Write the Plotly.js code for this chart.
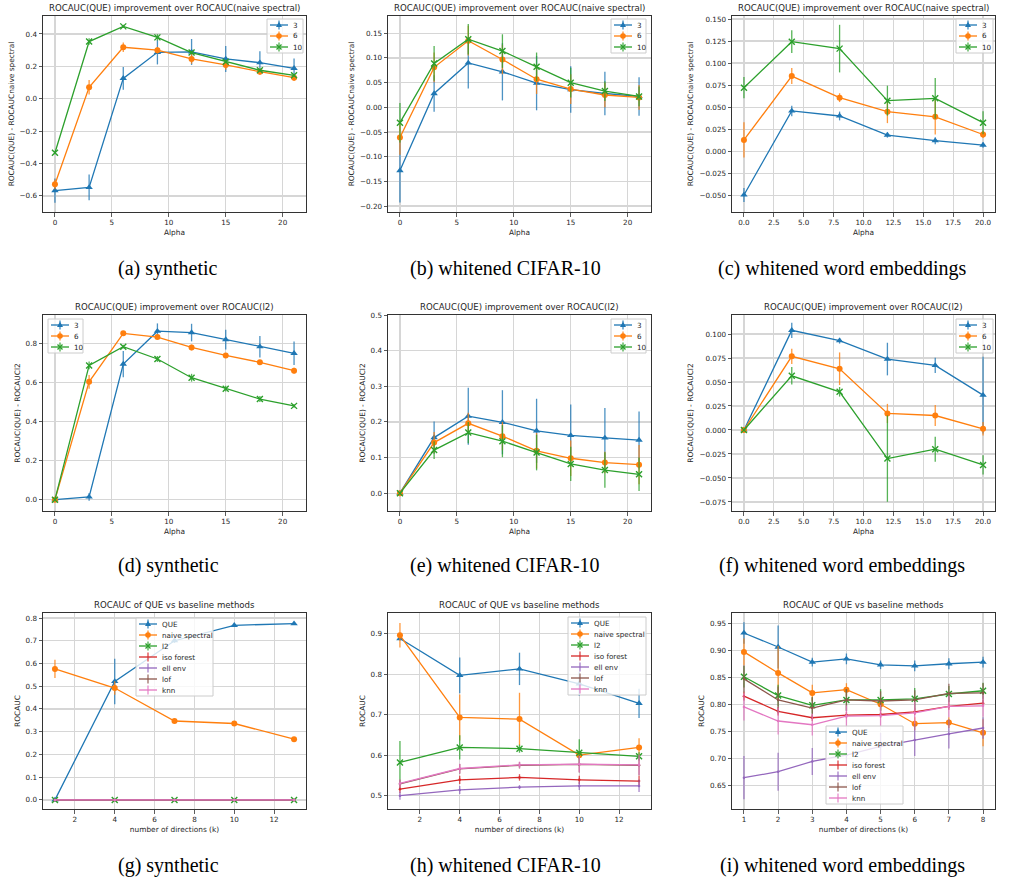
<!DOCTYPE html>
<html><head><meta charset="utf-8">
<script src="https://cdn.plot.ly/plotly-3.0.1.min.js"></script>
<style>html,body{margin:0;padding:0;background:#fff}</style>
</head><body><div id="chart" style="width:1010px;height:880px"></div>
<script>
// ---------- DATA ----------
const seriesNamesAlpha = ['3','6','10'];
const baselineNames = ['QUE','naive spectral','l2','iso forest','ell env','lof','knn'];

const alphaSyn = [0,3,6,9,12,15,18,21];
const alphaWord = [0,4,8,12,16,20];
const kSyn = [1,4,7,10,13];
const kCifar = [1,4,7,10,13];
const kWord = [1,2,3,4,5,6,7,8];

// (a) synthetic, improvement over naive spectral
const a3 = [-0.567,-0.547,0.126,0.287,0.289,0.246,0.223,0.188];
const a3e = [0.075,0.08,0.07,0.075,0.08,0.08,0.07,0.06];
const a6 = [-0.528,0.071,0.318,0.300,0.246,0.209,0.167,0.130];
const a6e = [0.03,0.045,0.03,0.02,0.03,0.03,0.02,0.02];
const a10 = [-0.333,0.353,0.447,0.379,0.285,0.229,0.176,0.145];
const a10e = [0.01,0.02,0.01,0.02,0.01,0.01,0.01,0.01];

// (b) whitened CIFAR-10, improvement over naive spectral
const b3 = [-0.128,0.028,0.090,0.072,0.049,0.036,0.028,0.022];
const b3e = [0.065,0.037,0.052,0.058,0.055,0.047,0.044,0.039];
const b6 = [-0.061,0.081,0.135,0.097,0.057,0.037,0.025,0.020];
const b6e = [0.035,0.03,0.03,0.03,0.03,0.03,0.025,0.025];
const b10 = [-0.031,0.089,0.138,0.114,0.082,0.050,0.033,0.022];
const b10e = [0.04,0.035,0.031,0.034,0.029,0.03,0.02,0.02];

// (c) whitened word embeddings, improvement over naive spectral
const c3 = [-0.0496,0.0457,0.040,0.0184,0.012,0.007];
const c3e = [0.008,0.006,0.005,0.003,0.004,0.003];
const c6 = [0.0128,0.0853,0.0608,0.0449,0.039,0.019];
const c6e = [0.02,0.009,0.005,0.013,0.02,0.004];
const c10 = [0.0721,0.1243,0.1164,0.0574,0.060,0.0324];
const c10e = [0.012,0.013,0.027,0.017,0.023,0.013];

// (d) synthetic, improvement over l2
const d3 = [0,0.014,0.694,0.862,0.855,0.819,0.783,0.749];
const d3e = [0,0.02,0.067,0.04,0.045,0.05,0.055,0.06];
const d6 = [0,0.603,0.851,0.832,0.779,0.738,0.703,0.660];
const d6e = [0,0.035,0.01,0.01,0.015,0.01,0.01,0.015];
const d10 = [0,0.687,0.783,0.720,0.624,0.568,0.515,0.480];
const d10e = [0,0.02,0.01,0.015,0.02,0.015,0.015,0.01];

// (e) whitened CIFAR-10, improvement over l2
const e3 = [0,0.156,0.216,0.199,0.175,0.162,0.155,0.149];
const e3e = [0,0.045,0.08,0.09,0.09,0.087,0.084,0.08];
const e6 = [0,0.142,0.196,0.160,0.119,0.098,0.086,0.080];
const e6e = [0,0.03,0.03,0.04,0.05,0.05,0.03,0.055];
const e10 = [0,0.121,0.170,0.146,0.114,0.082,0.065,0.053];
const e10e = [0,0.025,0.03,0.045,0.05,0.048,0.05,0.047];

// (f) whitened word embeddings, improvement over l2
const f3 = [0,0.1038,0.093,0.0739,0.0673,0.0363];
const f3e = [0,0.008,0.003,0.017,0.008,0.04];
const f6 = [0,0.0767,0.0638,0.0172,0.0151,0.0012];
const f6e = [0,0.008,0.017,0.01,0.011,0.007];
const f10 = [0,0.0565,0.0398,-0.0298,-0.020,-0.0364];
const f10e = [0,0.009,0.005,0.045,0.013,0.01];

// (g) synthetic, ROCAUC vs baselines
const gQUE = [0.0,0.521,0.700,0.768,0.775];
const gQUEe = [0,0.1,0.01,0.005,0.005];
const gNaive = [0.576,0.492,0.347,0.336,0.267];
const gNaivee = [0.04,0.03,0.005,0.005,0.005];
const gL2 = [0,0,0,0,0];
const gIso = [0,0,0,0,0];
const gEll = [0,0,0,0,0];
const gLof = [0,0,0,0,0];
const gKnn = [0,0,0,0,0];
const gZeroErr = [0,0,0,0,0];

// (h) whitened CIFAR-10, ROCAUC vs baselines
const hQUE = [0.888,0.797,0.813,0.776,0.728];
const hQUEe = [0.005,0.044,0.04,0.03,0.036];
const hNaive = [0.896,0.693,0.689,0.600,0.619];
const hNaivee = [0.03,0.057,0.065,0.01,0.023];
const hL2 = [0.582,0.619,0.616,0.606,0.597];
const hL2e = [0.053,0.03,0.01,0.033,0.01];
const hIso = [0.516,0.539,0.545,0.539,0.536];
const hIsoe = [0.01,0.01,0.008,0.01,0.013];
const hEll = [0.500,0.514,0.521,0.524,0.524];
const hElle = [0.01,0.01,0.005,0.01,0.015];
const hLof = [0.529,0.566,0.575,0.577,0.575];
const hLofe = [0.01,0.012,0.008,0.02,0.025];
const hKnn = [0.530,0.567,0.576,0.578,0.576];
const hKnne = [0.01,0.012,0.008,0.02,0.025];

// (i) whitened word embeddings, ROCAUC vs baselines
const iQUE = [0.932,0.906,0.878,0.884,0.873,0.871,0.875,0.878];
const iQUEe = [0.02,0.04,0.008,0.01,0.008,0.01,0.01,0.01];
const iNaive = [0.897,0.858,0.821,0.827,0.800,0.764,0.766,0.747];
const iNaivee = [0.025,0.05,0.015,0.012,0.012,0.012,0.01,0.025];
const iL2 = [0.851,0.816,0.798,0.808,0.808,0.810,0.819,0.825];
const iL2e = [0.02,0.02,0.015,0.02,0.02,0.02,0.015,0.015];
const iIso = [0.815,0.787,0.775,0.780,0.781,0.786,0.796,0.802];
const iIsoe = [0.008,0.008,0.006,0.006,0.006,0.006,0.006,0.006];
const iEll = [0.664,0.675,0.694,0.706,0.722,0.734,0.745,0.756];
const iElle = [0.04,0.035,0.025,0.02,0.025,0.03,0.027,0.02];
const iLof = [0.847,0.808,0.793,0.808,0.806,0.808,0.820,0.821];
const iLofe = [0.025,0.025,0.02,0.02,0.018,0.018,0.018,0.018];
const iKnn = [0.795,0.769,0.762,0.778,0.779,0.784,0.796,0.797];
const iKnne = [0.025,0.025,0.02,0.02,0.02,0.02,0.02,0.02];

const titles = [
  'ROCAUC(QUE) improvement over ROCAUC(naive spectral)',
  'ROCAUC(QUE) improvement over ROCAUC(naive spectral)',
  'ROCAUC(QUE) improvement over ROCAUC(naive spectral)',
  'ROCAUC(QUE) improvement over ROCAUC(l2)',
  'ROCAUC(QUE) improvement over ROCAUC(l2)',
  'ROCAUC(QUE) improvement over ROCAUC(l2)',
  'ROCAUC of QUE vs baseline methods',
  'ROCAUC of QUE vs baseline methods',
  'ROCAUC of QUE vs baseline methods'
];
const yLabels = ['ROCAUC(QUE) - ROCAUCnaive spectral','ROCAUC(QUE) - ROCAUCnaive spectral','ROCAUC(QUE) - ROCAUCnaive spectral',
  'ROCAUC(QUE) - ROCAUCl2','ROCAUC(QUE) - ROCAUCl2','ROCAUC(QUE) - ROCAUCl2','ROCAUC','ROCAUC','ROCAUC'];
const xLabels = ['Alpha','Alpha','Alpha','Alpha','Alpha','Alpha','number of directions (k)','number of directions (k)','number of directions (k)'];
const captions = ['(a) synthetic','(b) whitened CIFAR-10','(c) whitened word embeddings',
  '(d) synthetic','(e) whitened CIFAR-10','(f) whitened word embeddings',
  '(g) synthetic','(h) whitened CIFAR-10','(i) whitened word embeddings'];

// ---------- STYLE / LAYOUT ----------
const W = 1010, H = 880;
const FONT = 'DejaVu Sans, Arial, sans-serif';
const COL = ['#1f77b4','#ff7f0e','#2ca02c','#d62728','#9467bd','#8c564b','#e377c2'];
const SYM = ['triangle-up','circle','x-thin-open','none','none','none','none'];
const px = x => x / W;
const py = y => 1 - y / H;
function rgba(hex, a){const n=parseInt(hex.slice(1),16);return `rgba(${n>>16},${(n>>8)&255},${n&255},${a})`;}

const colsX = [[43,306],[388,651],[732,995]];
const rowsY = [[16,212],[315,511],[613,809]];
const capX = [168,505,842];
const capY = [268,565,865];

const axSpec = [
  {xr:[-1.05,22.05], xd:5, xf:'d', yr:[-0.699,0.511], yd:0.2, yf:'.1f'},
  {xr:[-1.05,22.05], xd:5, xf:'d', yr:[-0.212,0.185], yd:0.05, yf:'.2f'},
  {xr:[-1,21], xd:2.5, xf:'.1f', yr:[-0.0689,0.1534], yd:0.025, yf:'.3f'},
  {xr:[-1.05,22.05], xd:5, xf:'d', yr:[-0.058,0.945], yd:0.2, yf:'.1f'},
  {xr:[-1.05,22.05], xd:5, xf:'d', yr:[-0.05,0.5], yd:0.1, yf:'.1f'},
  {xr:[-1,21], xd:2.5, xf:'.1f', yr:[-0.0844,0.1198], yd:0.025, yf:'.3f'},
  {xr:[0.4,13.6], xd:2, xf:'d', yr:[-0.04,0.822], yd:0.1, yf:'.1f'},
  {xr:[0.4,13.6], xd:2, xf:'d', yr:[0.467,0.951], yd:0.1, yf:'.1f'},
  {xr:[0.65,8.35], xd:1, xf:'d', yr:[0.606,0.969], yd:0.05, yf:'.2f'}
];

// legend boxes [left, top, width] in pixels
const legBox = [[267,19,36],[611,19,35],[956,19,37],[48,319,35],[611,319,35],[956,319,37],[136,618,77],[568,617,78],[826,726,77]];

const panelData = [
  {x:alphaSyn, ys:[a3,a6,a10], es:[a3e,a6e,a10e], names:seriesNamesAlpha},
  {x:alphaSyn, ys:[b3,b6,b10], es:[b3e,b6e,b10e], names:seriesNamesAlpha},
  {x:alphaWord, ys:[c3,c6,c10], es:[c3e,c6e,c10e], names:seriesNamesAlpha},
  {x:alphaSyn, ys:[d3,d6,d10], es:[d3e,d6e,d10e], names:seriesNamesAlpha},
  {x:alphaSyn, ys:[e3,e6,e10], es:[e3e,e6e,e10e], names:seriesNamesAlpha},
  {x:alphaWord, ys:[f3,f6,f10], es:[f3e,f6e,f10e], names:seriesNamesAlpha},
  {x:kSyn, ys:[gQUE,gNaive,gL2,gIso,gEll,gLof,gKnn], es:[gQUEe,gNaivee,gZeroErr,gZeroErr,gZeroErr,gZeroErr,gZeroErr], names:baselineNames},
  {x:kCifar, ys:[hQUE,hNaive,hL2,hIso,hEll,hLof,hKnn], es:[hQUEe,hNaivee,hL2e,hIsoe,hElle,hLofe,hKnne], names:baselineNames},
  {x:kWord, ys:[iQUE,iNaive,iL2,iIso,iEll,iLof,iKnn], es:[iQUEe,iNaivee,iL2e,iIsoe,iElle,iLofe,iKnne], names:baselineNames}
];

const traces = [], shapes = [], annotations = [];
const layout = {
  width: W, height: H, margin:{l:0,r:0,t:0,b:0}, paper_bgcolor:'#fff', plot_bgcolor:'#fff',
  showlegend:false, font:{family:FONT, size:7.2, color:'#262626'}
};

function markerFor(j, color){
  const s = SYM[j];
  if (s === 'none') return {symbol:'circle', size:2.5, color:color};
  if (s === 'x-thin-open') return {symbol:s, size:6, color:color, line:{color:color, width:1.4}};
  return {symbol:s, size: s==='circle'?6:6.5, color:color, line:{width:0}};
}

panelData.forEach((p, k) => {
  const r = Math.floor(k/3), c = k%3;
  const xa = k===0 ? 'x' : 'x'+(k+1), ya = k===0 ? 'y' : 'y'+(k+1);
  const xk = k===0 ? 'xaxis' : 'xaxis'+(k+1), yk = k===0 ? 'yaxis' : 'yaxis'+(k+1);
  const sp = axSpec[k];
  const common = {showline:true, mirror:true, linecolor:'#333', linewidth:1, ticks:'outside', ticklen:3.5, tickwidth:0.8,
    tickcolor:'#333', showgrid:true, gridcolor:'#d6d6d6', gridwidth:1.2, zeroline:false,
    tickfont:{family:FONT, size:7.2, color:'#262626'}};
  layout[xk] = Object.assign({}, common, {domain:[px(colsX[c][0]), px(colsX[c][1])], anchor:ya, range:sp.xr,
    tick0:0, dtick:sp.xd, tickformat:sp.xf,
    title:{text:xLabels[k], font:{family:FONT,size:7.4,color:'#262626'}, standoff:3}});
  layout[yk] = Object.assign({}, common, {domain:[py(rowsY[r][1]), py(rowsY[r][0])], anchor:xa, range:sp.yr,
    tick0:0, dtick:sp.yd, tickformat:sp.yf,
    title:{text:yLabels[k], font:{family:FONT,size:7.4,color:'#262626'}, standoff:4}});

  p.ys.forEach((yv, j) => {
    const color = COL[j];
    traces.push({type:'scatter', mode:'lines+markers', x:p.x, y:yv, xaxis:xa, yaxis:ya, name:p.names[j],
      line:{color:color, width:1.3}, marker:markerFor(j,color),
      error_y:{type:'data', array:p.es[j], visible:true, color:rgba(color,0.8), thickness:1.3, width:0},
      hoverinfo:'skip', cliponaxis:true});
  });

  // subplot title
  annotations.push({xref:'paper', yref:'paper', x:px((colsX[c][0]+colsX[c][1])/2), y:py(rowsY[r][0]-8),
    xanchor:'center', yanchor:'middle', showarrow:false, text:titles[k], font:{family:FONT,size:8.6,color:'#262626'}});
  // caption
  annotations.push({xref:'paper', yref:'paper', x:px(capX[c]), y:py(capY[r]), xanchor:'center', yanchor:'middle',
    showarrow:false, text:captions[k], font:{family:'Liberation Serif, Times New Roman, serif', size:20, color:'#000'}});

  // legend (drawn like matplotlib's)
  const [L, T, LW] = legBox[k];
  const n = p.names.length;
  const LH = 12 + (n-1)*11;
  shapes.push({type:'rect', xref:'paper', yref:'paper', x0:px(L), x1:px(L+LW), y0:py(T+LH), y1:py(T),
    fillcolor:'rgba(255,255,255,0.8)', line:{color:'#cccccc', width:1}, layer:'above'});
  p.names.forEach((nm, j) => {
    const cy = T + 6 + j*11, color = COL[j], mx = L+12;
    shapes.push({type:'line', xref:'paper', yref:'paper', x0:px(L+3), x1:px(L+21), y0:py(cy), y1:py(cy), line:{color:color,width:1.3}});
    shapes.push({type:'line', xref:'paper', yref:'paper', x0:px(mx), x1:px(mx), y0:py(cy-4.5), y1:py(cy+4.5), line:{color:rgba(color,0.85),width:1.3}});
    const s = SYM[j];
    if (s === 'triangle-up') {
      shapes.push({type:'path', xref:'paper', yref:'paper', path:`M ${px(mx)},${py(cy-3.3)} L ${px(mx+3)},${py(cy+2)} L ${px(mx-3)},${py(cy+2)} Z`,
        fillcolor:color, line:{width:0}});
    } else if (s === 'circle') {
      shapes.push({type:'circle', xref:'paper', yref:'paper', x0:px(mx-2.8), x1:px(mx+2.8), y0:py(cy+2.8), y1:py(cy-2.8), fillcolor:color, line:{width:0}});
    } else if (s === 'x-thin-open') {
      shapes.push({type:'path', xref:'paper', yref:'paper', path:`M ${px(mx-2.5)},${py(cy-2.5)} L ${px(mx+2.5)},${py(cy+2.5)} M ${px(mx-2.5)},${py(cy+2.5)} L ${px(mx+2.5)},${py(cy-2.5)}`,
        line:{color:color,width:1.3}});
    }
    annotations.push({xref:'paper', yref:'paper', x:px(L+24), y:py(cy), xanchor:'left', yanchor:'middle', showarrow:false,
      text:nm, font:{family:FONT,size:7.2,color:'#262626'}});
  });
});

layout.shapes = shapes;
layout.annotations = annotations;
Plotly.newPlot('chart', traces, layout, {staticPlot:true, displayModeBar:false});
</script></body></html>
